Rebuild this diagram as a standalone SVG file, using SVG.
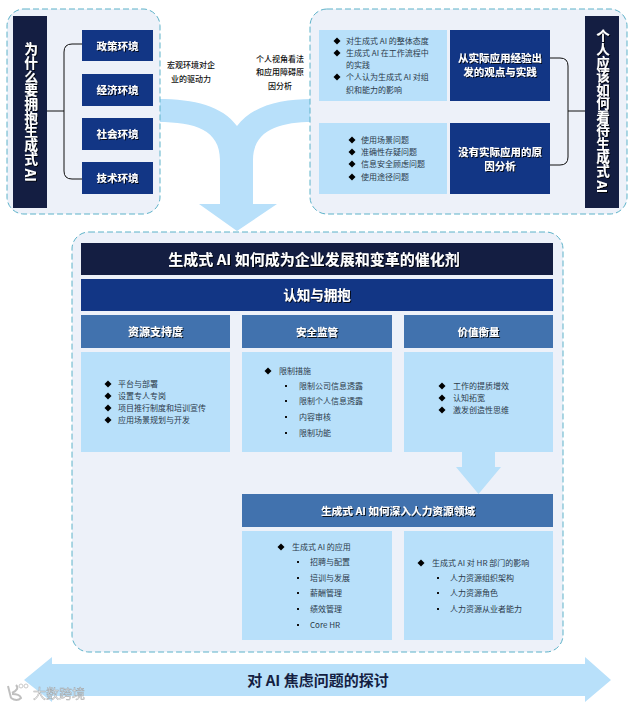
<svg xmlns="http://www.w3.org/2000/svg" width="635" height="706" viewBox="0 0 635 706">
<defs>
<filter id="sh" x="-20%" y="-40%" width="140%" height="180%"><feDropShadow dx="1" dy="1" stdDeviation="0.6" flood-color="#000" flood-opacity="0.85"/></filter>
<polygon id="d" points="0,-3.500 3.500,0 0,3.500 -3.500,0" fill="#000"/>
<rect id="s" x="-1" y="-1" width="2" height="2" fill="#111"/>
</defs>
<style>
text{font-family:"Noto Sans CJK SC","Noto Sans",sans-serif;dominant-baseline:central;transform:translateY(-1px)}
.panel{fill:#EDF1F9;stroke:#5DB2C9;stroke-width:1;stroke-dasharray:6 3}
.dark{fill:#141E42}.navy{fill:#123685}.mid{fill:#4172AE}.light{fill:#B8E0FA}
.h{fill:#fff;font-weight:700;text-anchor:middle;filter:url(#sh)}
.l{fill:#2b3a4a;font-size:8px}
.c{fill:#111;font-size:8px;text-anchor:middle;font-weight:500}
.v{fill:#fff;font-weight:700;writing-mode:vertical-rl;text-anchor:middle;filter:url(#sh)}
.con{fill:none;stroke:#111;stroke-width:1}
</style>
<g id="flow-arrows">
<path class="light" d="M158 99C195 99 222 106 237 126C252 106 280 99 312 99L312 122C280 122 253 130 253 160L253 204L277 204L237 231L199 204L220 204L220 160C220 130 195 122 158 122Z"/>
</g>
<g id="panel-left"><rect class="panel" x="7" y="9" width="153" height="205" rx="17"/></g>
<g id="panel-right"><rect class="panel" x="310" y="9" width="317" height="205" rx="17"/></g>
<g id="connectors">
<path class="con" d="M47 111H64M82 44H72Q64 44 64 52V171Q64 179 72 179H82"/>
<path class="con" d="M550 58H560Q568 58 568 66V157Q568 165 560 165H550M568 111H585"/>
</g>
<g id="why"><rect class="dark" x="13" y="16" width="34" height="192"/><text class="v" x="31" y="113" font-size="13.700">为什么要拥抱生成式 AI</text></g>
<g id="env1"><rect class="navy" x="82" y="30" width="71" height="31"/><text class="h" x="117.500" y="46" font-size="10.500">政策环境</text></g>
<g id="env2"><rect class="navy" x="82" y="74" width="71" height="32"/><text class="h" x="117.500" y="90" font-size="10.500">经济环境</text></g>
<g id="env3"><rect class="navy" x="82" y="118" width="71" height="32"/><text class="h" x="117.500" y="134" font-size="10.500">社会环境</text></g>
<g id="env4"><rect class="navy" x="82" y="162" width="71" height="32"/><text class="h" x="117.500" y="178" font-size="10.500">技术环境</text></g>
<g id="label-left"><text class="c" x="191" y="65">宏观环境对企</text><text class="c" x="191" y="79">业的驱动力</text></g>
<g id="label-right"><text class="c" x="280" y="59">个人视角看法</text><text class="c" x="280" y="72">和应用障碍原</text><text class="c" x="280" y="86">因分析</text></g>
<g id="practice-list"><rect class="light" x="319" y="30" width="128" height="71"/>
<use href="#d" x="337" y="41"/><use href="#d" x="337" y="53"/><use href="#d" x="337" y="77"/>
<text class="l" x="346" y="41">对生成式 AI 的整体态度</text><text class="l" x="346" y="53">生成式 AI 在工作流程中</text><text class="l" x="346" y="65">的实践</text><text class="l" x="346" y="77">个人认为生成式 AI 对组</text><text class="l" x="346" y="90">织和能力的影响</text></g>
<g id="practice"><rect class="navy" x="450" y="30" width="100" height="71"/><text class="h" x="500" y="58.500" font-size="10.500">从实际应用经验出</text><text class="h" x="500" y="72.500" font-size="10.500">发的观点与实践</text></g>
<g id="noapply-list"><rect class="light" x="319" y="123" width="128" height="71"/>
<use href="#d" x="352" y="140"/><use href="#d" x="352" y="152"/><use href="#d" x="352" y="164"/><use href="#d" x="352" y="177"/>
<text class="l" x="361" y="140">使用场景问题</text><text class="l" x="361" y="152">准确性存疑问题</text><text class="l" x="361" y="164">信息安全顾虑问题</text><text class="l" x="361" y="177">使用途径问题</text></g>
<g id="noapply"><rect class="navy" x="450" y="123" width="100" height="71"/><text class="h" x="500" y="152" font-size="10.500">没有实际应用的原</text><text class="h" x="500" y="166" font-size="10.500">因分析</text></g>
<g id="how"><rect class="dark" x="585" y="16" width="34" height="192"/><text class="v" x="603" y="112" font-size="13.500">个人应该如何看待生成式 AI</text></g>
<g id="panel-main"><rect class="panel" x="72" y="232" width="491" height="420" rx="17"/></g>
<g id="title"><rect class="dark" x="81" y="243" width="472" height="32"/><text class="h" x="314" y="259" font-size="15">生成式 AI 如何成为企业发展和变革的催化剂</text></g>
<g id="subtitle"><rect class="navy" x="81" y="279" width="472" height="32"/><text class="h" x="317" y="295" font-size="13.500">认知与拥抱</text></g>
<g id="col1-head"><rect class="mid" x="81" y="315" width="149" height="33"/><text class="h" x="155.500" y="332" font-size="11">资源支持度</text></g>
<g id="col2-head"><rect class="mid" x="242" y="315" width="150" height="33"/><text class="h" x="317" y="332" font-size="10.500">安全监管</text></g>
<g id="col3-head"><rect class="mid" x="404" y="315" width="149" height="33"/><text class="h" x="478.500" y="332" font-size="10.500">价值衡量</text></g>
<g id="col1"><rect class="light" x="81" y="352" width="149" height="100"/>
<use href="#d" x="108" y="384"/><use href="#d" x="108" y="396"/><use href="#d" x="108" y="408"/><use href="#d" x="108" y="420"/>
<text class="l" x="118" y="384">平台与部署</text><text class="l" x="118" y="396">设置专人专岗</text><text class="l" x="118" y="408">项目推行制度和培训宣传</text><text class="l" x="118" y="420">应用场景规划与开发</text></g>
<g id="col2"><rect class="light" x="242" y="352" width="150" height="100"/>
<use href="#d" x="268" y="371"/><text class="l" x="279" y="371">限制措施</text>
<use href="#s" x="286" y="386"/><use href="#s" x="286" y="401"/><use href="#s" x="286" y="417"/><use href="#s" x="286" y="433"/>
<text class="l" x="299" y="386">限制公司信息透露</text><text class="l" x="299" y="401">限制个人信息透露</text><text class="l" x="299" y="417">内容审核</text><text class="l" x="299" y="433">限制功能</text></g>
<g id="col3"><rect class="light" x="404" y="352" width="149" height="100"/>
<use href="#d" x="442" y="386"/><use href="#d" x="442" y="398"/><use href="#d" x="442" y="410"/>
<text class="l" x="453" y="386">工作的提质增效</text><text class="l" x="453" y="398">认知拓宽</text><text class="l" x="453" y="410">激发创造性思维</text></g>
<g id="arrow-down"><path class="light" d="M462 452H495V467H501L478.500 494L456 467H462Z"/></g>
<g id="hr-head"><rect class="mid" x="242" y="494" width="311" height="33"/><text class="h" x="398" y="511" font-size="10.700">生成式 AI 如何深入人力资源领域</text></g>
<g id="hr1"><rect class="light" x="242" y="531" width="150" height="109"/>
<use href="#d" x="281" y="547"/><text class="l" x="292" y="547">生成式 AI 的应用</text>
<use href="#s" x="298" y="562"/><use href="#s" x="298" y="578"/><use href="#s" x="298" y="593"/><use href="#s" x="298" y="609"/><use href="#s" x="298" y="625"/>
<text class="l" x="310" y="562">招聘与配置</text><text class="l" x="310" y="578">培训与发展</text><text class="l" x="310" y="593">薪酬管理</text><text class="l" x="310" y="609">绩效管理</text><text class="l" x="310" y="625">Core HR</text></g>
<g id="hr2"><rect class="light" x="404" y="531" width="149" height="109"/>
<use href="#d" x="421" y="563"/><text class="l" x="432" y="563">生成式 AI 对 HR 部门的影响</text>
<use href="#s" x="438" y="578"/><use href="#s" x="438" y="593"/><use href="#s" x="438" y="609"/>
<text class="l" x="450" y="578">人力资源组织架构</text><text class="l" x="450" y="593">人力资源角色</text><text class="l" x="450" y="609">人力资源从业者能力</text></g>
<g id="anxiety"><path class="light" d="M24 680L52 657V664H585V657L611 680L585 702V696H52V702Z"/>
<text x="318" y="680" font-size="15" font-weight="700" fill="#141E42" text-anchor="middle">对 AI 焦虑问题的探讨</text></g>
<g id="watermark" opacity="0.8"><path d="M8 686L11 698M12 693Q20 689 16 685M12 694Q20 694 21 698Q17 702 11 698" fill="none" stroke="#b0b0b0" stroke-width="2"/><circle cx="21" cy="686" r="2" fill="none" stroke="#bbb"/><circle cx="26" cy="686" r="2" fill="none" stroke="#bbb"/>
<text x="33" y="693" font-size="13" fill="#f4f4f4" stroke="#999" stroke-width="0.500">大数跨境</text></g>
</svg>
